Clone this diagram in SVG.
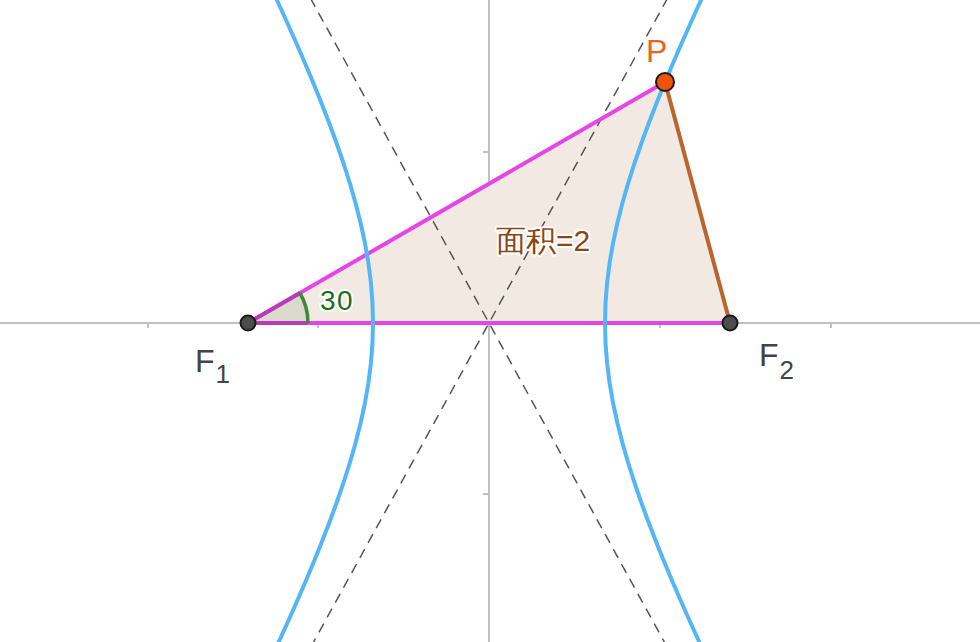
<svg xmlns="http://www.w3.org/2000/svg" width="980" height="642" viewBox="0 0 980 642">
<style>
.axis{stroke:#c0c0c0;stroke-width:2;fill:none}
.hyp{stroke:#55b6f5;stroke-width:4;fill:none;stroke-linejoin:round}
.asym{stroke:#555;stroke-width:1.5;stroke-dasharray:10,7;fill:none}
.pt{stroke:#1a1a1a;stroke-width:2}
.lbl{font-family:"Liberation Sans",Arial,sans-serif;paint-order:stroke;stroke:#fff;stroke-width:4;stroke-linejoin:round}
</style>
<rect width="980" height="642" fill="#fff"/>
<g id="axes">
<line class="axis" x1="0" y1="323" x2="980" y2="323"/>
<line class="axis" x1="489" y1="0" x2="489" y2="642"/>
<path class="axis" d="M148 323v5M318 323v5M660 323v5M831 323v5M489 152h-6M489 494h-6"/>
</g>
<g id="triangle">
<polygon points="248,323 665,82 730,323" fill="#f3e9e3"/>
</g>
<g id="connectors">
<line class="asym" x1="302.1" y1="-17" x2="675.9" y2="663"/>
<line class="asym" x1="675.9" y1="-17" x2="302.1" y2="663"/>
<line x1="248" y1="323" x2="665" y2="82" stroke="#e645e6" stroke-width="4"/>
<line x1="248" y1="323" x2="730" y2="323" stroke="#e645e6" stroke-width="4"/>
<line x1="665" y1="82" x2="730" y2="323" stroke="#b8652e" stroke-width="4"/>
</g>
<g id="hyperbola">
<polyline class="hyp" points="708.99,-17 699.73,3 690.64,23 681.75,43 673.09,63 664.68,83 656.58,103 648.83,123 641.47,143 634.58,163 628.21,183 622.45,203 617.37,223 613.06,243 609.6,263 607.07,283 605.52,303 605,323 605.52,343 607.07,363 609.6,383 613.06,403 617.37,423 622.45,443 628.21,463 634.58,483 641.47,503 648.83,523 656.58,543 664.68,563 673.09,583 681.75,603 690.64,623 699.73,643 708.99,663"/>
<polyline class="hyp" points="269.01,-17 278.27,3 287.36,23 296.25,43 304.91,63 313.32,83 321.42,103 329.17,123 336.53,143 343.42,163 349.79,183 355.55,203 360.63,223 364.94,243 368.4,263 370.93,283 372.48,303 373,323 372.48,343 370.93,363 368.4,383 364.94,403 360.63,423 355.55,443 349.79,463 343.42,483 336.53,503 329.17,523 321.42,543 313.32,563 304.91,583 296.25,603 287.36,623 278.27,643 269.01,663"/>
</g>
<g id="angle">
<path d="M248 323 L308 323 A60 60 0 0 0 299.96 293 Z" fill="#2e7d32" fill-opacity="0.13"/>
<path d="M248 323 L308 323 M248 323 L299.96 293" stroke="#b83cb8" stroke-width="4"/>
<path d="M308 323 A60 60 0 0 0 299.96 293" stroke="#3d8a3d" stroke-width="3.5" fill="none"/>
<text class="lbl" x="320" y="310" font-size="28" letter-spacing="1.5" fill="#1a6e1a">30</text>
</g>
<g id="F1">
<circle class="pt" cx="248" cy="323" r="7.5" fill="#4d4d4d"/>
<text class="lbl" x="195" y="372" font-size="32" fill="#444">F<tspan font-size="26" dx="1" dy="11">1</tspan></text>
</g>
<g id="F2">
<circle class="pt" cx="730" cy="323" r="7.5" fill="#4d4d4d"/>
<text class="lbl" x="759" y="366" font-size="32" fill="#444">F<tspan font-size="26" dx="1" dy="13">2</tspan></text>
</g>
<g id="P">
<circle class="pt" cx="665" cy="82" r="9" fill="#f2520a"/>
<text class="lbl" x="646" y="62" font-size="32" fill="#e8641e">P</text>
</g>
<g id="area">
<text class="lbl" x="496" y="251" font-size="30" fill="#8b4513" font-family="'Liberation Sans','Noto Sans CJK SC',sans-serif">面积=2</text>
</g>
</svg>
